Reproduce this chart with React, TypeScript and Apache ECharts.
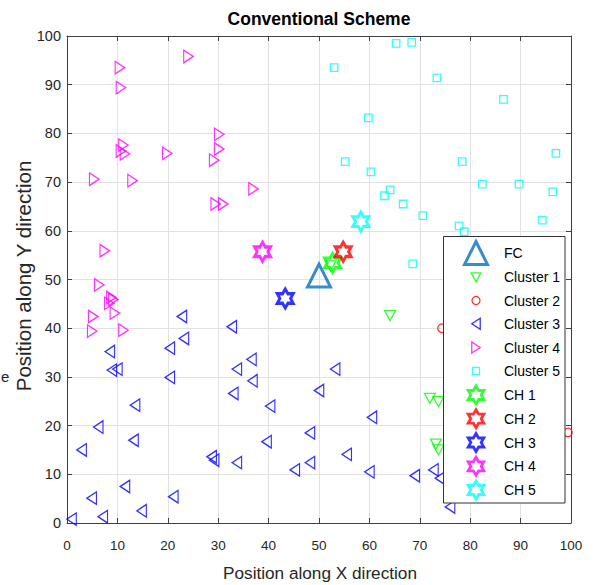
import React, { useEffect, useRef } from 'react';
import * as echarts from 'echarts';

// ---- Axis setup ----
const AXIS_MIN = 0;
const AXIS_MAX = 100;
const AXIS_STEP = 10;

// ---- Data ----
const fcPoints = [[50, 50.8]];

const cluster1Points = [
  [64.1, 42.6], [72.0, 25.6], [73.7, 24.9], [73.2, 16.2], [73.7, 15.0], [52.3, 52.8],
];

const cluster2Points = [
  [74.4, 40.0], [99.4, 18.6],
];

const cluster3Points = [
  [22.8, 42.4], [32.7, 40.3], [23.2, 37.9], [20.4, 35.9], [8.5, 35.2], [36.6, 33.6],
  [33.7, 31.6], [8.9, 31.4], [10.0, 31.6], [20.4, 29.9], [36.8, 29.2], [33.0, 26.6],
  [13.5, 24.2], [40.3, 24.0], [6.2, 19.7], [13.2, 17.0], [39.6, 16.7], [2.9, 15.0],
  [28.7, 13.6], [29.2, 12.9], [33.7, 12.4], [48.2, 18.5], [48.2, 12.4], [45.2, 10.9],
  [50.0, 27.2], [53.2, 31.6], [60.5, 21.7], [55.5, 14.1], [60.0, 10.5], [69.0, 9.7],
  [72.7, 10.9], [74.0, 9.2], [76.0, 3.3], [11.5, 7.5], [21.1, 5.4], [4.9, 5.1],
  [14.8, 2.5], [7.1, 1.3], [0.9, 0.8],
];

const cluster4Points = [
  [24.1, 95.8], [10.5, 93.5], [10.7, 89.4], [11.2, 77.6], [10.7, 76.4], [11.5, 75.8],
  [19.9, 75.9], [30.2, 79.8], [30.2, 76.8], [29.2, 74.5], [5.4, 70.6], [13.0, 70.3],
  [37.0, 68.6], [29.5, 65.5], [31.0, 65.5], [7.5, 55.9], [6.4, 48.9], [9.2, 45.9],
  [8.4, 45.1], [8.8, 46.3], [9.5, 43.1], [5.2, 42.4], [5.0, 39.4], [11.2, 39.6],
];

const cluster5Points = [
  [65.3, 98.5], [68.4, 98.7], [53.0, 93.5], [73.4, 91.4], [86.6, 87.0], [59.8, 83.2],
  [55.2, 74.2], [60.3, 72.1], [78.4, 74.2], [97.0, 75.9], [82.4, 69.6], [89.7, 69.6],
  [96.4, 68.0], [64.1, 68.4], [63.0, 67.2], [66.7, 65.5], [70.6, 63.1], [94.3, 62.2],
  [77.8, 61.0], [78.8, 59.8], [68.6, 53.2],
];

const chNames = ['CH 1', 'CH 2', 'CH 3', 'CH 4', 'CH 5'];
const chPoints = [
  [52.7, 53.4], [54.8, 55.7], [43.3, 46.1], [38.8, 55.7], [58.3, 61.9],
];

const clusterNames = ['Cluster 1', 'Cluster 2', 'Cluster 3', 'Cluster 4', 'Cluster 5'];
const clusterColors = ['#00FF00', '#FF0000', '#0000FF', '#FF00FF', '#00FFFF'];
const FC_COLOR = '#0072BD';

// ---- Marker shapes ----
const TRI_UP = 'path://M0,-10L10,10L-10,10Z';
const TRI_DOWN = 'path://M-6,-5.5L6,-5.5L0,5.5Z';
const TRI_LEFT = 'path://M-5,0L5,-6.5L5,6.5Z';
const TRI_RIGHT = 'path://M5,0L-5,-6.5L-5,6.5Z';
const SQUARE = 'path://M-4,-4L4,-4L4,4L-4,4Z';
const HEXAGRAM =
  'path://M0,-100L-28.87,-50L-86.6,-50L-57.74,0L-86.6,50L-28.87,50L0,100L28.87,50L86.6,50L57.74,0L86.6,-50L28.87,-50Z';

const FONT = '"Liberation Sans", Arial, Helvetica, sans-serif';
const NONE = 'rgba(0,0,0,0)';

export default function App() {
  const ref = useRef<HTMLDivElement>(null);

  useEffect(() => {
    if (!ref.current) return;
    const chart = echarts.init(ref.current, undefined, { renderer: 'svg' });

    const clusterData = [cluster1Points, cluster2Points, cluster3Points, cluster4Points, cluster5Points];
    const clusterSymbols = [TRI_DOWN, 'circle', TRI_LEFT, TRI_RIGHT, SQUARE];
    const clusterSizes: any[] = [[11, 10], 8.5, [9.5, 12.5], [9.5, 12.5], 7.5];

    const series: any[] = [];
    series.push({
      name: 'FC',
      type: 'scatter',
      data: fcPoints,
      symbol: TRI_UP,
      symbolSize: [23, 23],
      itemStyle: { color: NONE, borderColor: FC_COLOR, borderWidth: 3 },
      silent: true,
    });
    clusterNames.forEach((n, i) => {
      series.push({
        name: n,
        type: 'scatter',
        data: clusterData[i],
        symbol: clusterSymbols[i],
        symbolSize: clusterSizes[i],
        itemStyle: { color: NONE, borderColor: clusterColors[i], borderWidth: 1.3 },
        silent: true,
      });
    });
    chNames.forEach((n, i) => {
      series.push({
        name: n,
        type: 'scatter',
        data: [chPoints[i]],
        symbol: HEXAGRAM,
        symbolSize: [16, 19],
        itemStyle: { color: NONE, borderColor: clusterColors[i], borderWidth: 3 },
        silent: true,
      });
    });

    // legend rows: [name, centerY, iconHeight, iconAspect(w/h), borderWidth]
    const legendRows: [string, number, number, number, number][] = [
      ['FC', 253, 23, 1, 3],
      ['Cluster 1', 277.3, 9, 12 / 11, 1.3],
      ['Cluster 2', 300.5, 8, 1, 1.3],
      ['Cluster 3', 323.8, 11, 10 / 13, 1.3],
      ['Cluster 4', 347.5, 11, 10 / 13, 1.3],
      ['Cluster 5', 371, 7, 1, 1.3],
      ['CH 1', 395, 18, 0.866, 2.8],
      ['CH 2', 418.7, 18, 0.866, 2.8],
      ['CH 3', 442.5, 18, 0.866, 2.8],
      ['CH 4', 466.3, 18, 0.866, 2.8],
      ['CH 5', 490, 18, 0.866, 2.8],
    ];
    const ICON_CX = 476;
    const legends = legendRows.map(([name, yc, h, asp, bw]) => {
      const iw = h * asp + bw;
      const rowH = Math.max(h + bw, 14);
      return {
        data: [name],
        orient: 'vertical',
        left: ICON_CX - iw / 2,
        top: yc - rowH / 2,
        itemWidth: 46,
        itemHeight: h,
        padding: 0,
        selectedMode: false,
        z: 6,
        itemStyle: { borderWidth: bw },
        textStyle: { fontSize: 14, color: '#000', fontFamily: FONT, lineHeight: 14 },
      };
    });

    const axisLineStyle = { color: '#404040', width: 1 };
    const mkAxis = (pos: string, main: boolean, isX: boolean) => ({
      type: 'value',
      min: AXIS_MIN,
      max: AXIS_MAX,
      interval: AXIS_STEP,
      position: pos,
      axisLine: { show: true, onZero: false, lineStyle: axisLineStyle },
      axisTick: { show: true, inside: true, length: 5, lineStyle: axisLineStyle },
      axisLabel: main
        ? {
            show: true,
            margin: isX ? 15 : 6,
            color: '#262626',
            fontSize: isX ? 13.5 : 14.5,
            fontFamily: FONT,
          }
        : { show: false },
      splitLine: main ? { show: true, lineStyle: { color: '#e2e2e2', width: 1 } } : { show: false },
    });

    const option: any = {
      animation: false,
      backgroundColor: '#fff',
      grid: { left: 67, top: 36, right: 24, bottom: 62 },
      xAxis: [mkAxis('bottom', true, true), mkAxis('top', false, true)],
      yAxis: [mkAxis('left', true, false), mkAxis('right', false, false)],
      legend: legends,
      series,
      graphic: {
        elements: [
          {
            type: 'text',
            x: 319,
            y: 19,
            style: {
              text: 'Conventional Scheme',
              font: `bold 17.5px ${FONT}`,
              fill: '#000',
              align: 'center',
              verticalAlign: 'middle',
            },
          },
          {
            type: 'text',
            x: 320,
            y: 573,
            style: {
              text: 'Position along X direction',
              font: `17.2px ${FONT}`,
              fill: '#262626',
              align: 'center',
              verticalAlign: 'middle',
            },
          },
          {
            type: 'text',
            x: 23,
            y: 276,
            rotation: Math.PI / 2,
            style: {
              text: 'Position along Y direction',
              font: `20.5px ${FONT}`,
              fill: '#262626',
              align: 'center',
              verticalAlign: 'middle',
            },
          },
          {
            type: 'text',
            x: 1,
            y: 376,
            style: {
              text: 'e',
              font: `15px ${FONT}`,
              fill: '#222',
              align: 'left',
              verticalAlign: 'middle',
            },
          },
          {
            type: 'rect',
            z: 4,
            shape: { x: 443.5, y: 236.5, width: 121.5, height: 266.5 },
            style: { fill: '#fff', stroke: '#333', lineWidth: 1 },
          },
        ],
      },
    };

    chart.setOption(option);
    return () => chart.dispose();
  }, []);

  return (
    <div
      ref={ref}
      style={{ position: 'fixed', left: 0, top: 0, width: 595, height: 585, background: '#fff' }}
    />
  );
}
